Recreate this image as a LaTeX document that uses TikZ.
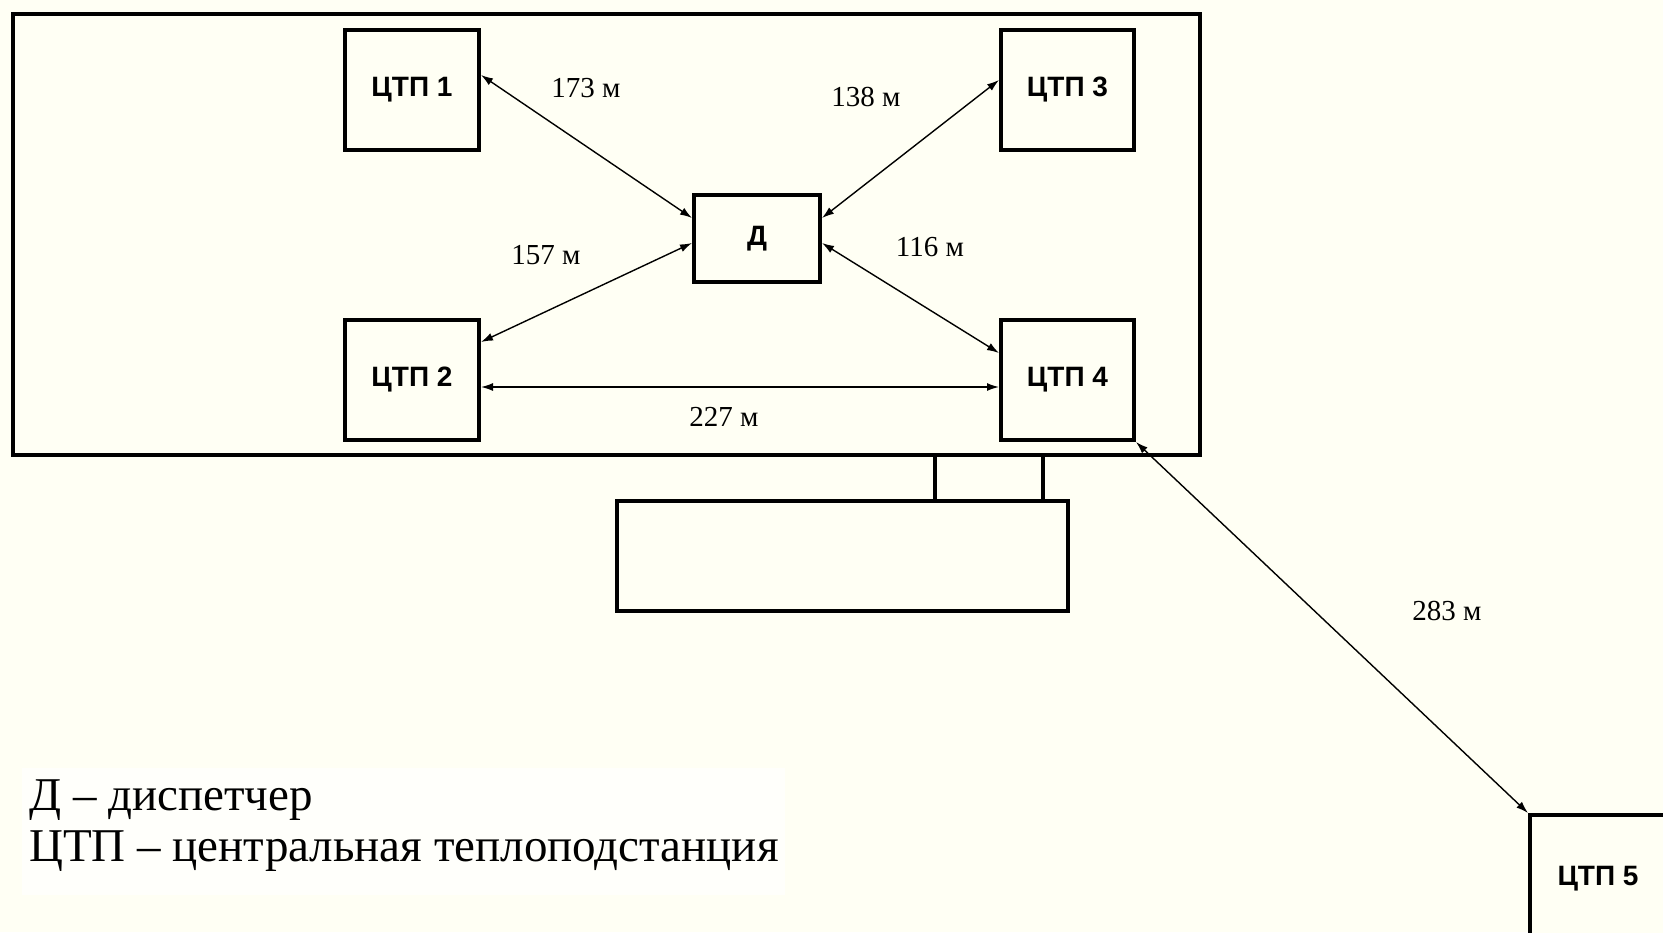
\documentclass[tikz,border=0pt]{standalone}
\usepackage{fontspec}
\setmainfont{Liberation Serif}
\newfontfamily\boxfont{Liberation Sans}
\usetikzlibrary{arrows.meta,calc}
\definecolor{bgcream}{RGB}{255,255,244}
\definecolor{legendbg}{RGB}{255,255,251}
\begin{document}
\begin{tikzpicture}[x=1pt,y=-1pt,
  station/.style={draw=black,line width=4pt,fill=bgcream,rectangle,inner sep=0pt,
    font=\boxfont\bfseries\fontsize{28}{32}\selectfont},
  link/.style={line width=1.4pt,{Latex[length=12pt,width=8pt]}-{Latex[length=12pt,width=8pt]}},
  dist/.style={font=\fontsize{29}{32}\selectfont,inner sep=0pt},
  legend/.style={font=\fontsize{47}{52}\selectfont,anchor=west,inner sep=0pt}]
\useasboundingbox (0,0) rectangle (1663,932);
\fill[bgcream] (0,0) rectangle (1663,932);
\clip (0,0) rectangle (1663,932);
\fill[legendbg] (22,768) rectangle (785,895);
% outer building
\draw[line width=4pt] (13,14) rectangle (1200,455);
% lower annex
\draw[line width=4pt] (617,501) rectangle (1068,611);
\draw[line width=4pt] (935,455) -- (935,501);
\draw[line width=4pt] (1043,455) -- (1043,501);
% stations
\node[station,minimum width=134pt,minimum height=120pt] (t1) at (412,90) {ЦТП 1};
\node[station,minimum width=134pt,minimum height=120pt] (t2) at (412,380) {ЦТП 2};
\node[station,minimum width=133pt,minimum height=120pt] (t3) at (1067.5,90) {ЦТП 3};
\node[station,minimum width=133pt,minimum height=120pt] (t4) at (1067.5,380) {ЦТП 4};
\node[station,minimum width=126pt,minimum height=87pt] (d) at (757,238.5) {Д};
\node[station,minimum width=136pt,minimum height=127pt] (t5) at (1598,878.5) {ЦТП 5};
% links
\draw[link] ($(t1.east)+(0,-15)$) -- ($(d.west)+(0,-20.5)$);
\draw[link] ($(d.west)+(0,4.5)$) -- ($(t2.east)+(0,-38)$);
\draw[link] ($(d.east)+(0,-20.5)$) -- ($(t3.west)+(0,-10)$);
\draw[link] ($(d.east)+(0,4.5)$) -- ($(t4.west)+(0,-27)$);
\draw[link] ($(t2.east)+(0,7)$) -- ($(t4.west)+(0,7)$);
\draw[link] (t4.south east) -- (t5.north west);
% distances
\node[dist] (l1) at (586,88) {173 м};
\node[dist] (l2) at (546,255) {157 м};
\node[dist] (l3) at (866,97) {138 м};
\node[dist] (l4) at (930,247) {116 м};
\node[dist] (l5) at (724,417) {227 м};
\node[dist] (l6) at (1447,611) {283 м};
% legend
\node[legend] (g1) at (29,800) {Д – диспетчер};
\node[legend] (g2) at (29,851) {ЦТП – центральная теплоподстанция};
\end{tikzpicture}
\end{document}
